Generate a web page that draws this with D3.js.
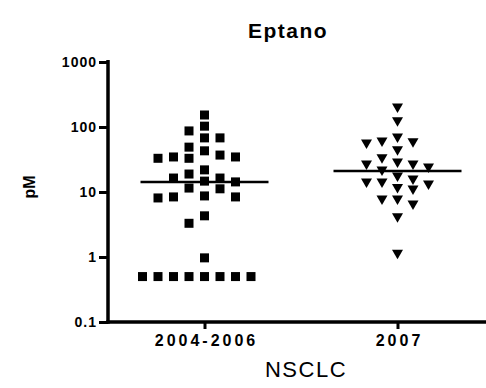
<!DOCTYPE html>
<html>
<head>
<meta charset="utf-8">
<script src="https://cdn.jsdelivr.net/npm/d3@7"></script>
<style>
  body { margin: 0; background: #fff; }
  text { font-family: Arial, "Liberation Sans", sans-serif; }
</style>
</head>
<body>
<div id="chart"></div>
<script>
// values (pM)
var groups = ["2004-2006", "2007"];
var values0406 = [153, 103, 87, 68, 68, 49, 43, 37, 34.6, 34.6, 33, 33, 21.9, 18.9, 16.4, 16.4,
    14.7, 14.3, 11.5, 11.2, 8.7, 8.4, 8.4, 8.1, 4.3, 3.3, 0.97,
    0.5, 0.5, 0.5, 0.5, 0.5, 0.5, 0.5, 0.5];
var values2007 = [196, 120, 68, 59, 57, 55, 43, 32.6, 28, 26, 26, 23.4, 21, 17, 15.3, 13.8, 13.8,
    12.8, 11.3, 10.7, 7.5, 7.5, 6.3, 4, 1.1];
var yTicks = [0.1, 1, 10, 100, 1000];

var width = 486, height = 388;

var svg = d3.select("#chart").append("svg")
    .attr("width", width)
    .attr("height", height);

var x = d3.scalePoint()
    .domain(groups)
    .range([108, 494])
    .padding(0.5);

var y = d3.scaleLog()
    .domain([0.1, 1000])
    .range([322, 62]);

// title
svg.append("text")
    .attr("x", 288)
    .attr("y", 38)
    .attr("text-anchor", "middle")
    .attr("font-size", "21px")
    .attr("font-weight", "bold")
    .attr("letter-spacing", "1.5px")
    .text("Eptano");

// y axis
var yAxis = svg.append("g")
    .attr("transform", "translate(108,0)")
    .call(d3.axisLeft(y).tickValues(yTicks).tickSize(9).tickPadding(2)
        .tickFormat(d => d < 1 ? "0.1" : d3.format("d")(d)));
yAxis.select(".domain").attr("stroke-width", 3.5).attr("d", "M0,60V323.7");
yAxis.selectAll(".tick line").attr("stroke-width", 3);
yAxis.selectAll(".tick text")
    .attr("font-size", "14px")
    .attr("font-weight", "bold")
    .attr("letter-spacing", "1px")
    .attr("fill", "#000");

// x axis
var xAxis = svg.append("g")
    .attr("transform", "translate(0,322)")
    .call(d3.axisBottom(x).tickSize(7).tickPadding(6));
xAxis.select(".domain").attr("stroke-width", 3.5).attr("d", "M106.3,0H486");
xAxis.selectAll(".tick line").attr("stroke-width", 3);
xAxis.selectAll(".tick text")
    .attr("font-size", "16px")
    .attr("font-weight", "bold")
    .attr("letter-spacing", "3px")
    .attr("dx", "1.5px")
    .attr("fill", "#000");

// axis titles
svg.append("text")
    .attr("transform", "translate(35,187) rotate(-90)")
    .attr("text-anchor", "middle")
    .attr("font-size", "16px")
    .attr("font-weight", "bold")
    .text("pM");

svg.append("text")
    .attr("x", 306)
    .attr("y", 377)
    .attr("text-anchor", "middle")
    .attr("font-size", "22px")
    .attr("letter-spacing", "1.5px")
    .text("NSCLC");

// simple swarm: place each point in the nearest free column slot
function swarm(vals, cx) {
    var step = 15.5, rowH = 10;
    var placed = [];
    var sorted = vals.slice().sort((a, b) => b - a);
    return sorted.map(function (v) {
        var py = y(v);
        var order = [0];
        for (var k = 1; k < 8; k++) { order.push(-k); order.push(k); }
        var slot = order.find(s => !placed.some(p => p.s === s && Math.abs(p.y - py) < rowH));
        placed.push({ s: slot, y: py });
        return { v: v, x: cx + slot * step, y: py };
    });
}

var pts0 = swarm(values0406, x(groups[0]));
var pts1 = swarm(values2007, x(groups[1]));

svg.append("g").selectAll("rect")
    .data(pts0)
    .enter().append("rect")
    .attr("x", d => d.x - 4.5)
    .attr("y", d => d.y - 4.5)
    .attr("width", 9)
    .attr("height", 9)
    .attr("fill", "#000");

svg.append("g").selectAll("path")
    .data(pts1)
    .enter().append("path")
    .attr("d", "M-5.5,-4.5L5.5,-4.5L0,5Z")
    .attr("transform", d => "translate(" + d.x + "," + d.y + ")")
    .attr("fill", "#000");

// medians
var medians = [d3.median(values0406), d3.median(values2007)];
svg.append("g").selectAll("line")
    .data(groups)
    .enter().append("line")
    .attr("x1", d => x(d) - 64)
    .attr("x2", d => x(d) + 64)
    .attr("y1", (d, i) => y(medians[i]))
    .attr("y2", (d, i) => y(medians[i]))
    .attr("stroke", "#000")
    .attr("stroke-width", 2.5);
</script>
</body>
</html>
